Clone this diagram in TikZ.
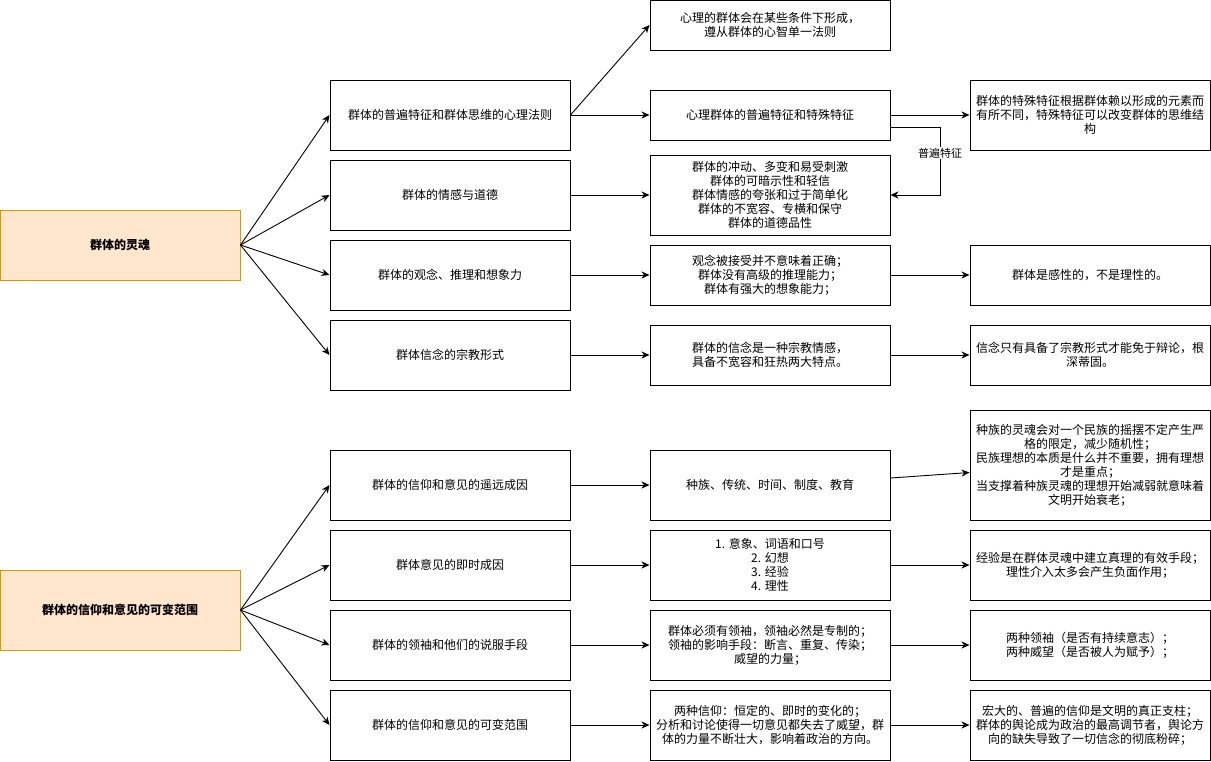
\documentclass[tikz,border=0pt]{standalone}
\usepackage{fontspec}
\setmainfont{Noto Sans CJK SC}
\usetikzlibrary{arrows.meta}
\definecolor{rootfill}{HTML}{FFE6CC}
\definecolor{rootdraw}{HTML}{D79B00}
\tikzset{
  box/.style={draw, line width=1pt, minimum width=240pt, minimum height=70pt, align=center, inner sep=0pt, font=\fontsize{12pt}{14pt}\selectfont},
  rootbox/.style={box, fill=rootfill, draw=rootdraw, font=\fontsize{12pt}{14pt}\selectfont\bfseries},
  arr/.style={-{Stealth[length=8pt,width=7pt,inset=2.5pt]}, line width=0.9pt},
  lbl/.style={fill=white, inner sep=1pt, font=\fontsize{11pt}{13pt}\selectfont},
}
\begin{document}
\begin{tikzpicture}[x=1pt,y=-1pt]
\useasboundingbox (0,0) rectangle (1211,761);
% roots
\node[rootbox] (r1) at (120,245) {群体的灵魂};
\node[rootbox, minimum height=80pt] (r2) at (120,610) {群体的信仰和意见的可变范围};
% column 2
\node[box] (p1) at (450,115) {群体的普遍特征和群体思维的心理法则};
\node[box] (p2) at (450,195) {群体的情感与道德};
\node[box] (p3) at (450,275) {群体的观念、推理和想象力};
\node[box] (p4) at (450,355) {群体信念的宗教形式};
\node[box] (q1) at (450,485) {群体的信仰和意见的遥远成因};
\node[box] (q2) at (450,565) {群体意见的即时成因};
\node[box] (q3) at (450,645) {群体的领袖和他们的说服手段};
\node[box] (q4) at (450,725) {群体的信仰和意见的可变范围};
% column 3
\node[box, minimum height=50pt] (a1) at (770,25) {心理的群体会在某些条件下形成，\\遵从群体的心智单一法则};
\node[box, minimum height=50pt] (a2) at (770,115) {心理群体的普遍特征和特殊特征};
\node[box, minimum height=80pt] (a3) at (770,195) {群体的冲动、多变和易受刺激\\群体的可暗示性和轻信\\群体情感的夸张和过于简单化\\群体的不宽容、专横和保守\\群体的道德品性};
\node[box, minimum height=60pt] (a4) at (770,275) {观念被接受并不意味着正确；\\群体没有高级的推理能力；\\群体有强大的想象能力；};
\node[box, minimum height=60pt] (a5) at (770,355) {群体的信念是一种宗教情感，\\具备不宽容和狂热两大特点。};
\node[box] (b1) at (770,485) {种族、传统、时间、制度、教育};
\node[box] (b2) at (770,565) {1. 意象、词语和口号\\2. 幻想\\3. 经验\\4. 理性};
\node[box] (b3) at (770,645) {群体必须有领袖，领袖必然是专制的；\\领袖的影响手段：断言、重复、传染；\\威望的力量；};
\node[box] (b4) at (770,725) {两种信仰：恒定的、即时的变化的；\\分析和讨论使得一切意见都失去了威望，群\\体的力量不断壮大，影响着政治的方向。};
% column 4
\node[box] (c1) at (1090,115) {群体的特殊特征根据群体赖以形成的元素而\\有所不同，特殊特征可以改变群体的思维结\\构};
\node[box, minimum height=60pt] (c2) at (1090,275) {群体是感性的，不是理性的。};
\node[box, minimum height=60pt] (c3) at (1090,355) {信念只有具备了宗教形式才能免于辩论，根\\深蒂固。};
\node[box, minimum height=110pt] (d1) at (1090,465) {种族的灵魂会对一个民族的摇摆不定产生严\\格的限定，减少随机性；\\民族理想的本质是什么并不重要，拥有理想\\才是重点；\\当支撑着种族灵魂的理想开始减弱就意味着\\文明开始衰老；};
\node[box] (d2) at (1090,565) {经验是在群体灵魂中建立真理的有效手段；\\理性介入太多会产生负面作用；};
\node[box] (d3) at (1090,645) {两种领袖（是否有持续意志）；\\两种威望（是否被人为赋予）；};
\node[box] (d4) at (1090,725) {宏大的、普遍的信仰是文明的真正支柱；\\群体的舆论成为政治的最高调节者，舆论方\\向的缺失导致了一切信念的彻底粉碎；};
% edges from roots
\foreach \t in {p1,p2,p3,p4} \draw[arr] (r1.east) -- (\t.west);
\foreach \t in {q1,q2,q3,q4} \draw[arr] (r2.east) -- (\t.west);
% column 2 -> 3
\draw[arr] (p1.east) -- (a1.west);
\draw[arr] (p1.east) -- (a2.west);
\draw[arr] (p2.east) -- (a3.west);
\draw[arr] (p3.east) -- (a4.west);
\draw[arr] (p4.east) -- (a5.west);
\draw[arr] (q1.east) -- (b1.west);
\draw[arr] (q2.east) -- (b2.west);
\draw[arr] (q3.east) -- (b3.west);
\draw[arr] (q4.east) -- (b4.west);
% column 3 -> 4
\draw[arr] (a2.east) -- (c1.west);
\draw[arr] (a4.east) -- (c2.west);
\draw[arr] (a5.east) -- (c3.west);
\draw[arr] ([yshift=7pt]b1.east) -- ([yshift=-7.5pt]d1.west);
\draw[arr] (b2.east) -- (d2.west);
\draw[arr] (b3.east) -- (d3.west);
\draw[arr] (b4.east) -- (d4.west);
% elbow edge
\coordinate (k1) at (940,127.5);
\coordinate (k2) at (940,195);
\draw[arr] ([yshift=-12.5pt]a2.east) -- (k1) -- (k2) -- (a3.east);
\node[lbl] (l1) at (940,153) {普遍特征};
\end{tikzpicture}
\end{document}
